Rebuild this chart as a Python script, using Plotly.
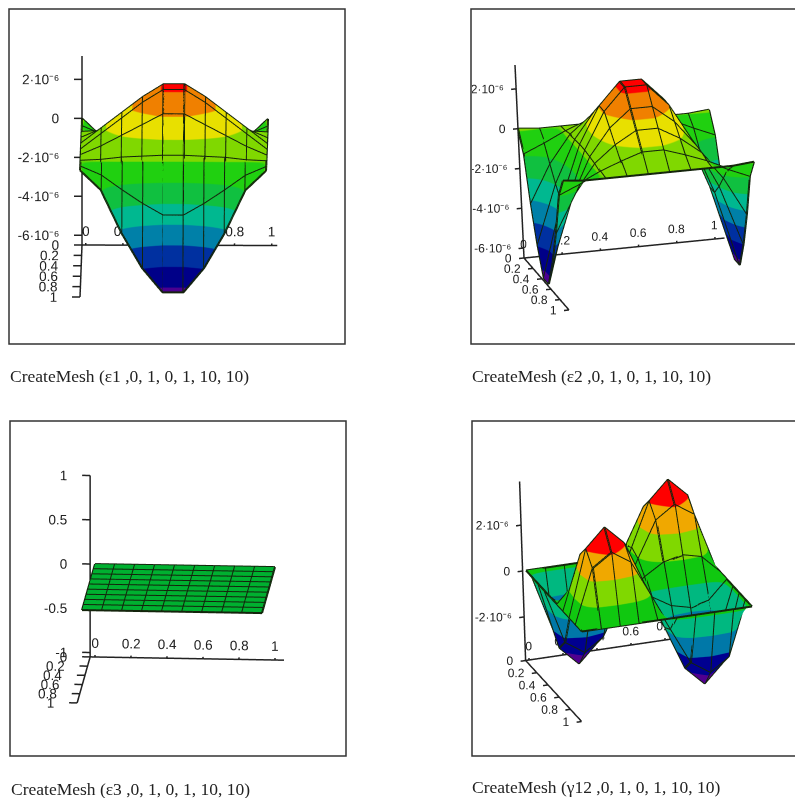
import numpy as np
import plotly.graph_objects as go

W, H = 795, 798

x_values = [0, 0.111, 0.222, 0.333, 0.444, 0.556, 0.667, 0.778, 0.889, 1]
y_values = [0, 0.111, 0.222, 0.333, 0.444, 0.556, 0.667, 0.778, 0.889, 1]
plane_ticks = [0, 0.2, 0.4, 0.6, 0.8, 1]
plane_labels = ["0", "0.2", "0.4", "0.6", "0.8", "1"]

# z values in units of 1e-6, rows = y, columns = x
eps1 = [
    [0.0, -1.0, -3.2, -5.0, -6.25, -6.25, -5.0, -3.2, -1.0, 0.0],
    [-0.1, -0.55, -1.3, -2.0, -2.6, -2.6, -2.0, -1.3, -0.55, -0.1],
    [-0.1, -0.05, 0.07, 0.12, 0.17, 0.17, 0.12, 0.07, -0.05, -0.1],
    [-0.1, 0.35, 0.9, 1.45, 2.0, 2.0, 1.45, 0.9, 0.35, -0.1],
    [-0.1, 0.7, 1.5, 2.3, 2.95, 2.95, 2.3, 1.5, 0.7, -0.1],
    [-0.1, 0.7, 1.5, 2.3, 2.95, 2.95, 2.3, 1.5, 0.7, -0.1],
    [-0.1, 0.35, 0.9, 1.45, 2.0, 2.0, 1.45, 0.9, 0.35, -0.1],
    [-0.1, -0.05, 0.07, 0.12, 0.17, 0.17, 0.12, 0.07, -0.05, -0.1],
    [-0.1, -0.55, -1.3, -2.0, -2.6, -2.6, -2.0, -1.3, -0.55, -0.1],
    [0.0, -1.0, -3.2, -5.0, -6.25, -6.25, -5.0, -3.2, -1.0, 0.0],
]
eps2 = [
    [0.0, -0.1, -0.1, -0.1, -0.1, -0.1, -0.1, -0.1, -0.1, 0.0],
    [-1.0, -0.55, -0.05, 0.35, 0.7, 0.7, 0.35, -0.05, -0.55, -1.0],
    [-3.2, -1.3, 0.07, 0.9, 1.5, 1.5, 0.9, 0.07, -1.3, -3.2],
    [-5.0, -2.0, 0.12, 1.45, 2.3, 2.3, 1.45, 0.12, -2.0, -5.0],
    [-6.35, -2.6, 0.17, 2.0, 3.1, 3.1, 2.0, 0.17, -2.6, -6.35],
    [-6.35, -2.6, 0.17, 2.0, 3.1, 3.1, 2.0, 0.17, -2.6, -6.35],
    [-5.0, -2.0, 0.12, 1.45, 2.3, 2.3, 1.45, 0.12, -2.0, -5.0],
    [-3.2, -1.3, 0.07, 0.9, 1.5, 1.5, 0.9, 0.07, -1.3, -3.2],
    [-1.0, -0.55, -0.05, 0.35, 0.7, 0.7, 0.35, -0.05, -0.55, -1.0],
    [0.0, -0.1, -0.1, -0.1, -0.1, -0.1, -0.1, -0.1, -0.1, 0.0],
]
eps3 = [
    [0, 0, 0, 0, 0, 0, 0, 0, 0, 0],
    [0, 0, 0, 0, 0, 0, 0, 0, 0, 0],
    [0, 0, 0, 0, 0, 0, 0, 0, 0, 0],
    [0, 0, 0, 0, 0, 0, 0, 0, 0, 0],
    [0, 0, 0, 0, 0, 0, 0, 0, 0, 0],
    [0, 0, 0, 0, 0, 0, 0, 0, 0, 0],
    [0, 0, 0, 0, 0, 0, 0, 0, 0, 0],
    [0, 0, 0, 0, 0, 0, 0, 0, 0, 0],
    [0, 0, 0, 0, 0, 0, 0, 0, 0, 0],
    [0, 0, 0, 0, 0, 0, 0, 0, 0, 0],
]
gamma12 = [
    [0, 0, 0, 0, 0, 0, 0, 0, 0, 0],
    [0, -2.35, -2.9, -2.35, -0.8, 0.8, 2.35, 2.9, 2.35, 0],
    [0, -2.9, -3.7, -2.9, -1.0, 1.0, 2.9, 3.7, 2.9, 0],
    [0, -2.35, -2.9, -2.35, -0.8, 0.8, 2.35, 2.9, 2.35, 0],
    [0, -0.8, -1.0, -0.8, -0.3, 0.3, 0.8, 1.0, 0.8, 0],
    [0, 0.8, 1.0, 0.8, 0.3, -0.3, -0.8, -1.0, -0.8, 0],
    [0, 2.35, 2.9, 2.35, 0.8, -0.8, -2.35, -2.9, -2.35, 0],
    [0, 2.9, 3.7, 2.9, 1.0, -1.0, -2.9, -3.7, -2.9, 0],
    [0, 2.35, 2.9, 2.35, 0.8, -0.8, -2.35, -2.9, -2.35, 0],
    [0, 0, 0, 0, 0, 0, 0, 0, 0, 0],
]

strain_ticks = [2, 0, -2, -4, -6]
strain_labels = ["2·10⁻⁶", "0", "-2·10⁻⁶", "-4·10⁻⁶", "-6·10⁻⁶"]
eps3_ticks = [1, 0.5, 0, -0.5, -1]
eps3_labels = ["1", "0.5", "0", "-0.5", "-1"]
gamma_ticks = [2, 0, -2]
gamma_labels = ["2·10⁻⁶", "0", "-2·10⁻⁶"]

band_colors = ["#4b0090", "#000088", "#0030a0", "#0080a8", "#00b890", "#10c040",
               "#20d010", "#80d800", "#e8e000", "#f08000", "#ff0000"]
gamma_colors = ["#500090", "#000090", "#0078a8", "#00b880", "#10c810", "#80d800",
                "#f0a800", "#ff0000"]
flat_colors = ["#00b030"]

captions = ["CreateMesh (ε1 ,0, 1, 0, 1, 10, 10)", "CreateMesh (ε2 ,0, 1, 0, 1, 10, 10)",
            "CreateMesh (ε3 ,0, 1, 0, 1, 10, 10)", "CreateMesh (γ12 ,0, 1, 0, 1, 10, 10)"]

panels = [
    dict(z=eps1, zr=(-6.5, 3.2), cr=(-7.0, 3.89), colors=band_colors, zt=strain_ticks, zl=strain_labels,
         origin=(82, 245), Sx=(186, -0.5), Sy=(-2, -52), Sz=(0, 189), x0=0.0, tx=0.02, tk=8, gp=10, fs=13.5,
         frame=(9, 9, 345, 344), cap=(8, 376)),
    dict(z=eps2, zr=(-6.5, 3.2), cr=(-7.0, 3.89), colors=band_colors, zt=strain_ticks, zl=strain_labels,
         origin=(524, 258), Sx=(191, 19), Sy=(45, -52), Sz=(-9, 193), x0=0.0, tx=0.0, tk=5, gp=1, fs=12,
         frame=(471, 9, 800, 344), cap=(470, 376)),
    dict(z=eps3, zr=(-1.05, 1), cr=(-1, 1), colors=flat_colors, zt=eps3_ticks, zl=eps3_labels,
         origin=(95, 657), Sx=(180, -3), Sy=(-13, -46), Sz=(0, 181.4), x0=-0.027, tx=0.0, tk=8, gp=10, fs=13.5,
         frame=(10, 421, 346, 756), cap=(9, 789)),
    dict(z=gamma12, zr=(-3.9, 3.9), cr=(-4.15, 3.85), colors=gamma_colors, zt=gamma_ticks, zl=gamma_labels,
         origin=(529, 660), Sx=(170, 25), Sy=(56, -61), Sz=(-6, 179), x0=-0.02, tx=0.0, tk=5, gp=1, fs=12,
         frame=(472, 421, 800, 756), cap=(470, 787)),
]

PAD = 0.3          # axis-range margin on both sides, as a fraction of the span
DIST = 2.0
K = 166.5          # calibration: px per scene unit for a 333 px tall scene
TEXT = "#222222"
FONT = "Liberation Sans"


def camera_for(Sx, Sy, Sz):
    A = np.array([[Sx[0] ** 2, Sy[0] ** 2, Sz[0] ** 2],
                  [Sx[1] ** 2, Sy[1] ** 2, Sz[1] ** 2],
                  [Sx[0] * Sx[1], Sy[0] * Sy[1], Sz[0] * Sz[1]]], float)
    p = np.linalg.solve(A, [1, 1, 0])
    ln = 1 / np.sqrt(p)
    R = np.array([Sx[0] / ln[0], -Sy[0] / ln[1], Sz[0] / ln[2]])
    U = np.array([Sx[1] / ln[0], -Sy[1] / ln[1], Sz[1] / ln[2]])
    E = np.cross(R, U)
    return ln, R, U, E


def steps(colors):
    n = len(colors)
    out = []
    for i, c in enumerate(colors):
        out += [[i / n, c], [(i + 1) / n, c]]
    return out


def segs(pts):
    xs, ys, zs = [], [], []
    for seg in pts:
        for a in seg:
            xs.append(a[0]); ys.append(a[1]); zs.append(a[2])
        xs.append(None); ys.append(None); zs.append(None)
    return xs, ys, zs


fig = go.Figure()
layout_extra = {}
shapes, annotations = [], []

for n, P in enumerate(panels):
    scene = "scene" if n == 0 else f"scene{n + 1}"
    Z = np.array(P["z"], float)
    z0, z1 = P["zr"]
    span = z1 - z0
    common = dict(scene=scene, showlegend=False, hoverinfo="skip")

    fig.add_trace(go.Surface(x=x_values, y=y_values, z=Z, surfacecolor=Z, cmin=P["cr"][0], cmax=P["cr"][1],
                             colorscale=steps(P["colors"]), showscale=False, hoverinfo="skip", scene=scene,
                             lighting=dict(ambient=1, diffuse=0, specular=0, roughness=1, fresnel=0)))

    mesh = []
    for j, yv in enumerate(y_values):
        mesh.append([(xv, yv, Z[j, i]) for i, xv in enumerate(x_values)])
    for i, xv in enumerate(x_values):
        mesh.append([(xv, yv, Z[j, i]) for j, yv in enumerate(y_values)])
    mx, my, mz = segs(mesh)
    fig.add_trace(go.Scatter3d(x=mx, y=my, z=mz, mode="lines", line=dict(color="#14240c", width=4), **common))

    x0, tx = P["x0"], P["tx"]
    tick = P["tk"] / abs(P["Sx"][0])
    lift = 2 / P["Sz"][1] * span
    lines = [[(x0, 0, z0), (x0, 0, z1)], [(x0, 0, z0), (x0, 1, z0)], [(x0, 0, z0), (1.05, 0, z0)]]
    for t in P["zt"]:
        lines.append([(x0, 0, t), (x0 - tick, 0, t)])
    for t in plane_ticks:
        lines.append([(x0, t, z0), (x0 - tick, t, z0)])
        lines.append([(t + tx, 0, z0), (t + tx, 0, z0 + lift)])
    ax, ay, az = segs(lines)
    fig.add_trace(go.Scatter3d(x=ax, y=ay, z=az, mode="lines", line=dict(color="#222222", width=3), **common))

    font = dict(family=FONT, size=P["fs"], color=TEXT)
    gap = P["gp"] / abs(P["Sx"][0])
    fig.add_trace(go.Scatter3d(x=[x0 - gap] * len(P["zt"]), y=[0] * len(P["zt"]), z=P["zt"], mode="text",
                               text=P["zl"], textposition="middle left", textfont=font, **common))
    fig.add_trace(go.Scatter3d(x=[x0 - gap] * len(plane_ticks), y=plane_ticks, z=[z0] * len(plane_ticks), mode="text",
                               text=plane_labels, textposition="middle left", textfont=font, **common))
    up = 14 / P["Sz"][1] * span
    fig.add_trace(go.Scatter3d(x=[t + tx for t in plane_ticks], y=[0] * 6, z=[z0 + up] * 6, mode="text",
                               text=plane_labels, textposition="middle center", textfont=font, **common))

    ln, R, U, E = camera_for(P["Sx"], P["Sy"], P["Sz"])
    o = np.array(P["origin"], float)
    Sx, Sy, Sz = map(lambda s: np.array(s, float), (P["Sx"], P["Sy"], P["Sz"]))
    c = o + 0.5 * np.array([Sx[0] + Sy[0] + Sz[0], -(Sx[1] + Sy[1] + Sz[1])])
    l, t, r, b = P["frame"]
    dl, dr, dt, db = l + 1, min(r - 1, W), t + 1, t + 334
    dc = np.array([(dl + dr) / 2, (dt + db) / 2])
    # the box centre has to land on c while the scene's own centre is dc
    shift = (-(c[0] - dc[0]) * R + (c[1] - dc[1]) * U) / K
    scale = 1 + 2 * PAD
    axis = dict(visible=False, showgrid=False, zeroline=False, showspikes=False, showbackground=False)
    layout_extra[scene] = dict(
        domain=dict(x=[dl / W, dr / W], y=[1 - db / H, 1 - dt / H]),
        xaxis=dict(range=[-PAD, 1 + PAD], **axis),
        yaxis=dict(range=[1 + PAD, -PAD], **axis),
        zaxis=dict(range=[z0 - PAD * span, z1 + PAD * span], **axis),
        aspectmode="manual",
        aspectratio=dict(x=ln[0] * scale / K, y=ln[1] * scale / K, z=ln[2] * scale / K),
        camera=dict(projection=dict(type="orthographic"),
                    eye=dict(x=E[0] * DIST + shift[0], y=E[1] * DIST + shift[1], z=E[2] * DIST + shift[2]),
                    up=dict(x=U[0], y=U[1], z=U[2]),
                    center=dict(x=shift[0], y=shift[1], z=shift[2])),
        bgcolor="white",
    )
    shapes.append(dict(type="rect", xref="paper", yref="paper", x0=l / W, x1=r / W, y0=1 - t / H, y1=1 - b / H,
                       line=dict(color="#333333", width=1.5), fillcolor="rgba(0,0,0,0)"))
    annotations.append(dict(text=captions[n], xref="paper", yref="paper", x=P["cap"][0] / W, y=1 - P["cap"][1] / H,
                            xanchor="left", yanchor="middle", showarrow=False,
                            font=dict(family="Liberation Serif", size=17.5, color="#222222")))

fig.update_layout(width=W, height=H, margin=dict(l=0, r=0, t=0, b=0), paper_bgcolor="white",
                  plot_bgcolor="white", showlegend=False, shapes=shapes, annotations=annotations, **layout_extra)
fig.write_html("out.html", config=dict(displayModeBar=False),
               post_script="document.body.style.margin='0';document.body.style.overflow='hidden';")
